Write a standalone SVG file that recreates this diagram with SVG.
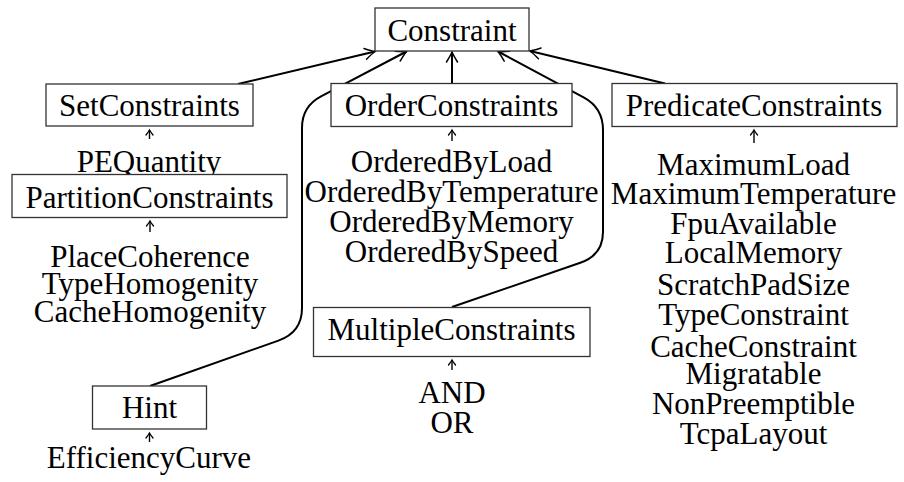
<svg xmlns="http://www.w3.org/2000/svg" width="904" height="482" viewBox="0 0 904 482">
<defs>
<style>
.box{fill:#fff;stroke:#333;stroke-width:1.3}
.edge{fill:none;stroke:#000;stroke-width:2;marker-end:url(#big)}
.sub{fill:none;stroke:#000;stroke-width:1.4;marker-end:url(#small)}
</style>
<marker id="big" markerUnits="userSpaceOnUse" viewBox="-12 -7 14 14" markerWidth="14" markerHeight="14" refX="0" refY="0" orient="auto" overflow="visible">
<path d="M -10,-5.5 Q -3,-1.2 0,0 Q -3,1.2 -10,5.5" fill="none" stroke="#000" stroke-width="1.5" stroke-linecap="round"/>
</marker>
<marker id="small" markerUnits="userSpaceOnUse" viewBox="-8 -5 10 10" markerWidth="10" markerHeight="10" refX="0" refY="0" orient="auto" overflow="visible">
<path d="M -5,-3.5 Q -1.5,-0.8 0,0 Q -1.5,0.8 -5,3.5" fill="none" stroke="#000" stroke-width="1.3" stroke-linecap="round"/>
</marker>
</defs>

<g id="connectors">
<path class="edge" d="M 238,84 L 375,51.5"/>
<path class="edge" d="M 150,386 L 278.4,340.6 Q 302,332.3 302,308 L 302,128 Q 302,106.3 321.5,96.2 L 406.5,51.5"/>
<path class="edge" d="M 452,83.5 L 452,52"/>
<path class="edge" d="M 452,307 L 580.3,262.8 Q 603,255 603,232 L 603,130 Q 603,107.6 583.6,97.3 L 498,51.5"/>
<path class="edge" d="M 665,83.5 L 530,51"/>
<path class="sub" d="M 149.5,139 L 149.5,130"/>
<path class="sub" d="M 150,232 L 150,221"/>
<path class="sub" d="M 452,141 L 452,130"/>
<path class="sub" d="M 754,143 L 754,130"/>
<path class="sub" d="M 452,370 L 452,360"/>
<path class="sub" d="M 149.5,442 L 149.5,433"/>
</g>

<g font-family="Liberation Serif, Times New Roman, DejaVu Serif, serif" font-size="31" text-anchor="middle" fill="#000">
<g id="Constraint">
<rect class="box" x="375" y="8" width="154" height="43"/>
<text x="452" y="40.5">Constraint</text>
</g>

<g id="SetConstraints">
<rect class="box" x="46" y="84" width="207" height="42"/>
<text x="149.5" y="115.5">SetConstraints</text>
</g>

<g id="PEQuantity">
<text x="149" y="171.5">PEQuantity</text>
</g>

<g id="PartitionConstraints">
<rect class="box" x="12" y="174.5" width="275" height="43"/>
<text x="149.5" y="207.5">PartitionConstraints</text>
</g>

<g id="PartitionMembers">
<text x="150" y="267">PlaceCoherence</text>
<text x="150" y="294">TypeHomogenity</text>
<text x="150" y="322">CacheHomogenity</text>
</g>

<g id="Hint">
<rect class="box" x="92.5" y="386" width="114" height="43"/>
<text x="149.5" y="418">Hint</text>
</g>

<g id="EfficiencyCurve">
<text x="149" y="468">EfficiencyCurve</text>
</g>

<g id="OrderConstraints">
<rect class="box" x="331" y="83.5" width="241" height="43"/>
<text x="451.5" y="115.5">OrderConstraints</text>
</g>

<g id="OrderMembers">
<text x="451.5" y="171.5">OrderedByLoad</text>
<text x="451.5" y="201.5">OrderedByTemperature</text>
<text x="451.5" y="231.5">OrderedByMemory</text>
<text x="451.5" y="261.5">OrderedBySpeed</text>
</g>

<g id="MultipleConstraints">
<rect class="box" x="313.5" y="307.5" width="276.5" height="49"/>
<text x="451.5" y="339.5">MultipleConstraints</text>
</g>

<g id="MultipleMembers">
<text x="452" y="403">AND</text>
<text x="452" y="433">OR</text>
</g>

<g id="PredicateConstraints">
<rect class="box" x="612" y="83.5" width="285" height="43"/>
<text x="754" y="115.5">PredicateConstraints</text>
</g>

<g id="PredicateMembers">
<text x="753.5" y="175">MaximumLoad</text>
<text x="753.5" y="203.5">MaximumTemperature</text>
<text x="753.5" y="233.5">FpuAvailable</text>
<text x="753.5" y="262.5">LocalMemory</text>
<text x="753.5" y="295">ScratchPadSize</text>
<text x="753.5" y="325">TypeConstraint</text>
<text x="753.5" y="356.5">CacheConstraint</text>
<text x="753.5" y="383.5">Migratable</text>
<text x="753.5" y="413.5">NonPreemptible</text>
<text x="753.5" y="443.5">TcpaLayout</text>
</g>
</g>
</svg>
